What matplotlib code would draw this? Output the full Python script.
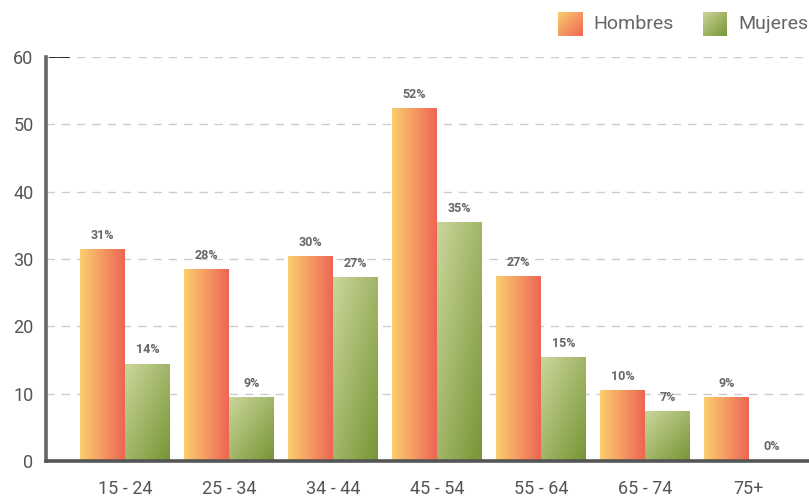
import matplotlib
matplotlib.use("Agg")
import matplotlib.pyplot as plt
import numpy as np

categories = ["15 - 24", "25 - 34", "34 - 44", "45 - 54", "55 - 64", "65 - 74", "75+"]
hombres = [31.4, 28.4, 30.4, 52.4, 27.4, 10.4, 9.4]
mujeres = [14.4, 9.4, 27.3, 35.4, 15.4, 7.4, 0.0]
series_names = ["Hombres", "Mujeres"]
yticks = [0, 10, 20, 30, 40, 50, 60]

plt.rcParams['font.family'] = ['Roboto', 'DejaVu Sans']

W, H = 809, 500
fig = plt.figure(figsize=(W / 100, H / 100), dpi=100)
ax = fig.add_axes([46 / W, 1 - 461 / H, 1 - 46 / W, (461 - 57) / H])

OR_L = np.array([252, 206, 110]) / 255
OR_R = np.array([237, 102, 84]) / 255
GR_TL = np.array([204, 214, 156]) / 255
GR_BR = np.array([118, 150, 52]) / 255


def orange_grad(n=64):
    t = np.linspace(0, 1, n)[None, :, None]
    img = OR_L * (1 - t) + OR_R * t
    return np.repeat(img, 2, axis=0)


def diag_grad(c0, c1, n=64):
    u = np.linspace(0, 1, n)[None, :]
    v = np.linspace(0, 1, n)[:, None]
    t = ((u + v) / 2)[:, :, None]
    return c0 * (1 - t) + c1 * t


x = np.arange(len(categories))
bw = 0.432
bars_h = ax.bar(x - bw, hombres, width=bw, align='edge', color='none', edgecolor='none', zorder=3)
bars_m = ax.bar(x, mujeres, width=bw, align='edge', color='none', edgecolor='none', zorder=3)

for b in bars_h:
    x0, w, h = b.get_x(), b.get_width(), b.get_height()
    if h > 0:
        ax.imshow(orange_grad(), extent=[x0, x0 + w, 0, h], aspect='auto', zorder=3, interpolation='bilinear')
for b in bars_m:
    x0, w, h = b.get_x(), b.get_width(), b.get_height()
    if h > 0:
        ax.imshow(diag_grad(GR_TL, GR_BR), extent=[x0, x0 + w, 0, h], aspect='auto', zorder=3,
                  interpolation='bilinear', origin='upper')

for bars, vals in ((bars_h, hombres), (bars_m, mujeres)):
    for b, v in zip(bars, vals):
        ax.annotate(f"{round(v)}%", (b.get_x() + b.get_width() / 2, v), xytext=(0, 5.5),
                    textcoords='offset points', ha='center', va='bottom',
                    fontsize=9, fontweight='bold', color='#666666', zorder=5)

ax.set_xlim(-0.76, 6.577)
ax.set_ylim(0, 60)
ax.set_aspect('auto')

ax.set_yticks(yticks)
ax.set_yticklabels([str(t) for t in yticks])
ax.set_xticks(x)
ax.set_xticklabels(categories)
ax.tick_params(axis='y', length=0, pad=9, labelsize=13, labelcolor='#555555')
ax.tick_params(axis='x', length=0, pad=14, labelsize=13, labelcolor='#555555')

ax.yaxis.grid(True, linestyle=(0, (6, 5)), color='#cccccc', linewidth=1)
ax.set_axisbelow(True)
ax.axhline(60, xmin=0.005, xmax=0.03, color='#111111', linewidth=1.2, zorder=4)

for s in ('top', 'right'):
    ax.spines[s].set_visible(False)
ax.spines['left'].set_color('#666666')
ax.spines['left'].set_linewidth(2.6)
ax.spines['bottom'].set_color('#555555')
ax.spines['bottom'].set_linewidth(2.6)
ax.spines['left'].set_zorder(6)
ax.spines['bottom'].set_zorder(6)


def legend_square(x0, img):
    lax = fig.add_axes([x0 / W, 1 - 36 / H, 24 / W, 24 / H])
    lax.imshow(img, extent=[0, 1, 0, 1], aspect='auto', origin='upper', interpolation='bilinear')
    lax.set_axis_off()


legend_square(558, diag_grad(OR_L, OR_R, 32))
legend_square(703, diag_grad(GR_TL, GR_BR, 32))
fig.text(593 / W, 1 - 24 / H, series_names[0], fontsize=14, color='#666666', va='center', ha='left')
fig.text(738 / W, 1 - 24 / H, series_names[1], fontsize=14, color='#666666', va='center', ha='left')

fig.savefig("out.png", dpi=100)
